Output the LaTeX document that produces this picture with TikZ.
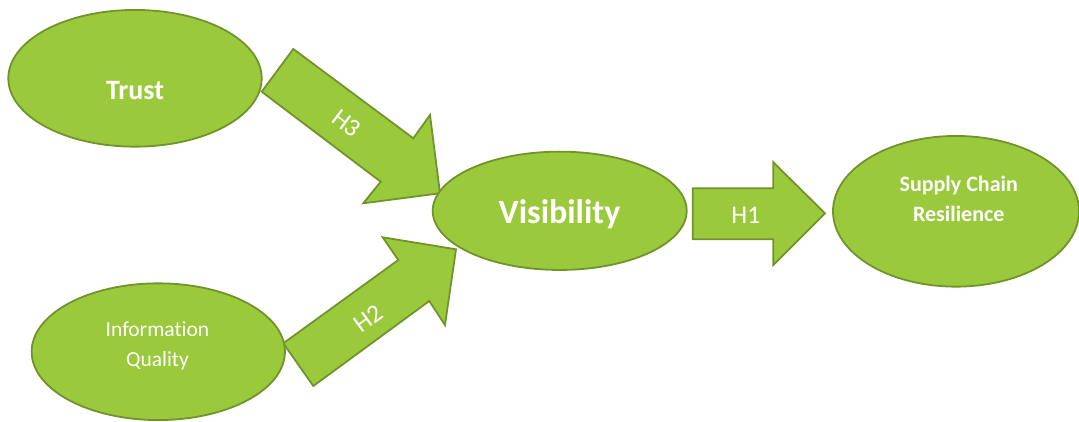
\documentclass[tikz,border=0pt]{standalone}
\usepackage{fontspec}
\setmainfont{Carlito}[Ligatures=CommonOff]
\usetikzlibrary{shapes.geometric}
\definecolor{leaf}{RGB}{154,202,60}
\definecolor{leafedge}{RGB}{113,147,44}
\tikzset{
  construct/.style={ellipse, draw=leafedge, fill=leaf, line width=1.8pt, inner sep=0pt},
  blockarrow/.style={draw=leafedge, fill=leaf, line width=1.8pt, line join=miter},
  caption/.style={text=white, inner sep=0pt},
  hyp/.style={text=white, inner sep=0pt, font=\fontsize{25.5}{30}\selectfont},
}
\begin{document}
\begin{tikzpicture}[x=1pt,y=-1pt]
\useasboundingbox (0,0) rectangle (1079,422);

% block arrows for the hypotheses (drawn first, the constructs sit on top)
\draw[blockarrow] (261.7,91.7) -- (293.3,49) -- (413.3,138.3) -- (430,115)
  -- (440,193.3) -- (363.3,203.3) -- (380.7,181.7) -- cycle;
\draw[blockarrow] (283.3,343.3) -- (313.3,386) -- (429.3,301) -- (445,325)
  -- (456,249.3) -- (382.7,237.3) -- (398.3,260) -- cycle;
\draw[blockarrow] (692.7,188.3) -- (773.3,188.3) -- (773.3,162.3) -- (825,213.3)
  -- (773.3,265) -- (773.3,239.3) -- (692.7,239.3) -- cycle;

\node[hyp, rotate=-37] (h3) at (346.7,123.3) {H3};
\node[hyp, rotate=36] (h2) at (368.3,318.3) {H2};
\node[hyp, anchor=base] (h1) at (745.8,224) {H1};

% constructs
\node[construct, minimum width=253.4pt, minimum height=136.7pt] (trust) at (135,78.3) {};
\node[construct, minimum width=254pt, minimum height=118.3pt] (vis) at (559.7,210.8) {};
\node[construct, minimum width=246pt, minimum height=150.7pt] (scr) at (956,211.3) {};
\node[construct, minimum width=253.3pt, minimum height=136.7pt] (iq) at (158.3,351.7) {};

% construct names (base anchor of a two-line node is the last line's baseline)
\node[caption, anchor=base, font=\bfseries\fontsize{28}{34}\selectfont] (trust-t) at (135,100) {Trust};
\node[caption, anchor=base, font=\bfseries\fontsize{34}{40}\selectfont] (vis-t) at (559.5,223.3) {Visibility};
\node[caption, anchor=base, align=center, font=\bfseries\fontsize{22}{30.7}\selectfont] (scr-t) at (958.7,221.7) {Supply Chain\\Resilience};
\node[caption, anchor=base, align=center, font=\fontsize{21.5}{30.7}\selectfont] (iq-t) at (157.5,366.7) {Information\\Quality};
\end{tikzpicture}
\end{document}
